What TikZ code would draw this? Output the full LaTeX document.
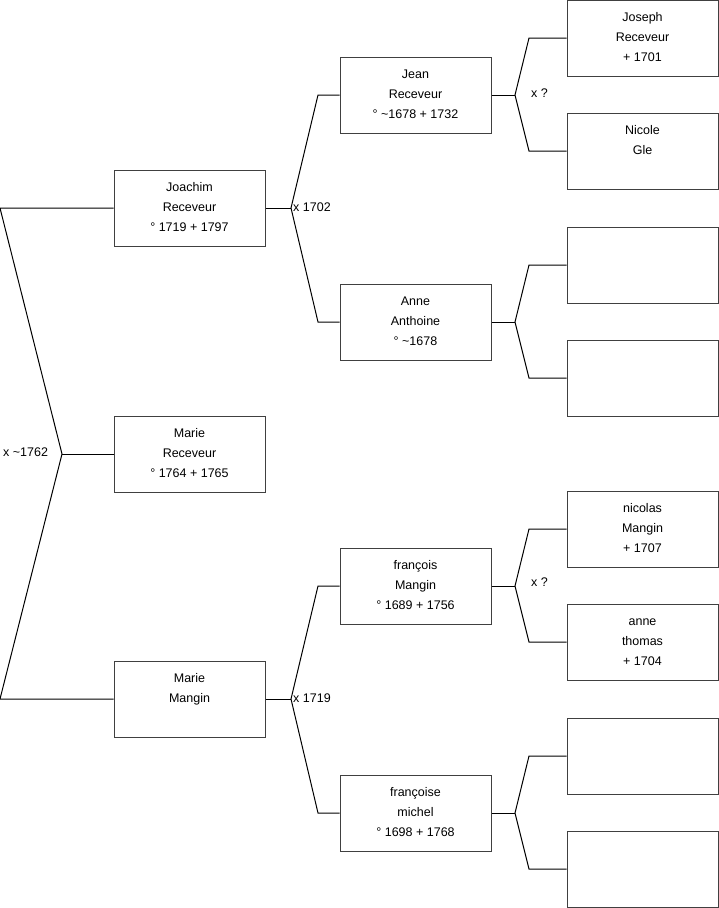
\documentclass[tikz,border=0pt]{standalone}
\usepackage{fontspec}
\setmainfont{Liberation Sans}
\begin{document}
\begin{tikzpicture}[x=1pt,y=-1pt,
  pbox/.style={draw=black!75,line width=1pt,minimum width=151pt,minimum height=76pt,inner sep=0pt,fill=white},
  ptext/.style={anchor=north,inner sep=0pt,align=center,font=\fontsize{12.5}{20}\selectfont},
  lbl/.style={anchor=west,inner sep=0pt,font=\fontsize{12.5}{15}\selectfont},
  conn/.style={line width=1pt,black}]
\useasboundingbox (0,0) rectangle (719,908);
\newcommand\pers[4]{%
  \node[pbox] (#1) at (#2+75.5,#3+38) {};
  \node[ptext] (#1t) at ([yshift=-7.5pt]#1.north) {\rule{0pt}{14pt}#4};}
\newcommand\emptyp[3]{\node[pbox] (#1) at (#2+75.5,#3+38) {};}
% generation 1
\pers{joachim}{114}{170}{Joachim\\Receveur\\° 1719 + 1797}
\pers{marieR}{114}{416}{Marie\\Receveur\\° 1764 + 1765}
\pers{marieM}{114}{661}{Marie\\Mangin}
% generation 2
\pers{jean}{340}{57}{Jean\\Receveur\\° \textasciitilde 1678 + 1732}
\pers{anne}{340}{284}{Anne\\Anthoine\\° \textasciitilde 1678}
\pers{francois}{340}{548}{françois\\Mangin\\° 1689 + 1756}
\pers{francoise}{340}{775}{françoise\\michel\\° 1698 + 1768}
% generation 3
\pers{joseph}{567}{0}{Joseph\\Receveur\\+ 1701}
\pers{nicole}{567}{113}{Nicole\\Gle}
\emptyp{e1}{567}{227}
\emptyp{e2}{567}{340}
\pers{nicolas}{567}{491}{nicolas\\Mangin\\+ 1707}
\pers{annet}{567}{604}{anne\\thomas\\+ 1704}
\emptyp{e3}{567}{718}
\emptyp{e4}{567}{831}
% couple of generation 1
\coordinate (c0a) at (0,208);
\coordinate (c0b) at (0,699);
\coordinate (c0m) at (62,454);
\draw[conn] (joachim.west) -- (c0a) -- (c0m) -- (c0b) -- (marieM.west);
\draw[conn] (c0m) -- (marieR.west);
\node[lbl] (l0) at (3,452) {x \textasciitilde 1762};
% parents of Joachim
\coordinate (j1) at (291,208);
\coordinate (j1u) at (318,95);
\coordinate (j1d) at (318,322);
\draw[conn] (joachim.east) -- (j1);
\draw[conn] (jean.west) -- (j1u) -- (j1) -- (j1d) -- (anne.west);
\node[lbl] (l1) at (293,207) {x 1702};
% parents of Marie Mangin
\coordinate (m1) at (291,699);
\coordinate (m1u) at (318,586);
\coordinate (m1d) at (318,813);
\draw[conn] (marieM.east) -- (m1);
\draw[conn] (francois.west) -- (m1u) -- (m1) -- (m1d) -- (francoise.west);
\node[lbl] (l2) at (293,698) {x 1719};
% parents of Jean
\coordinate (a1) at (515,95);
\coordinate (a1u) at (529,38);
\coordinate (a1d) at (529,151);
\draw[conn] (jean.east) -- (a1);
\draw[conn] (joseph.west) -- (a1u) -- (a1) -- (a1d) -- (nicole.west);
\node[lbl] (l3) at (531,93) {x ?};
% parents of Anne
\coordinate (a2) at (515,322);
\coordinate (a2u) at (529,265);
\coordinate (a2d) at (529,378);
\draw[conn] (anne.east) -- (a2);
\draw[conn] (e1.west) -- (a2u) -- (a2) -- (a2d) -- (e2.west);
% parents of francois
\coordinate (a3) at (515,586);
\coordinate (a3u) at (529,529);
\coordinate (a3d) at (529,642);
\draw[conn] (francois.east) -- (a3);
\draw[conn] (nicolas.west) -- (a3u) -- (a3) -- (a3d) -- (annet.west);
\node[lbl] (l4) at (531,582) {x ?};
% parents of francoise
\coordinate (a4) at (515,813);
\coordinate (a4u) at (529,756);
\coordinate (a4d) at (529,869);
\draw[conn] (francoise.east) -- (a4);
\draw[conn] (e3.west) -- (a4u) -- (a4) -- (a4d) -- (e4.west);
\end{tikzpicture}
\end{document}
